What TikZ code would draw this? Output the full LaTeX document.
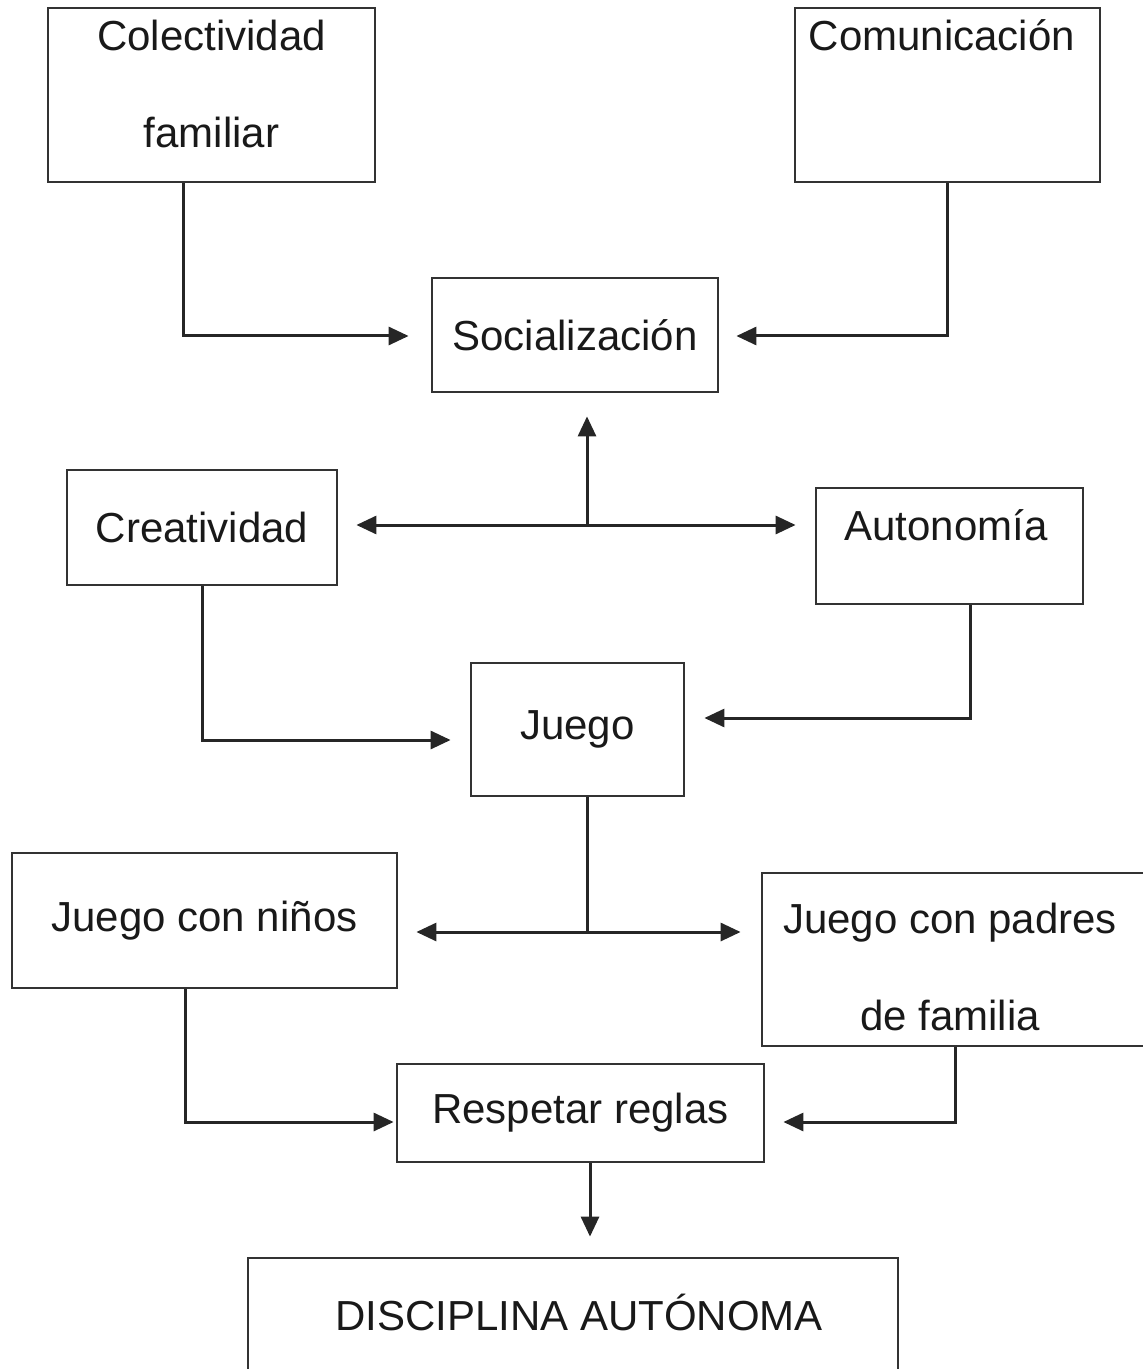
\documentclass[tikz,border=0pt]{standalone}
\usepackage{fontspec}
\setmainfont{Liberation Sans}
\usetikzlibrary{arrows.meta,calc,positioning}
\tikzset{
  box/.style={draw=black!80,line width=1.4pt,rectangle,inner sep=0pt,align=center,
    font=\fontsize{21}{48.5}\selectfont,text=black!90},
  txt/.style={inner sep=0pt,align=center,font=\fontsize{21}{48.5}\selectfont,text=black!90},
  line/.style={draw=black!85,line width=1.5pt},
  arr/.style={line,-{Triangle[length=10pt,width=9pt]}},
  arrs/.style={line,{Triangle[length=10pt,width=9pt]}-{Triangle[length=10pt,width=9pt]}}
}
\begin{document}
\begin{tikzpicture}[x=0.5pt,y=-0.5pt]
	\useasboundingbox (0,0) rectangle (1143,1369);
	% boxes
	\node [box,minimum width=163.5pt,minimum height=87pt] (col) at (211.5,95) {};
	\node [txt] (col-t) at (211.5,83.5) {Colectividad\\familiar};
	\node [box,minimum width=152.5pt,minimum height=87pt] (com) at (947.5,95) {};
	\node [txt] (com-t) at (942,35) {Comunicación};
	\node [box,minimum width=143pt,minimum height=57pt] (soc) at (575,335) {Socialización};
	\node [box,minimum width=135pt,minimum height=57.5pt] (cre) at (202,527.5) {Creatividad};
	\node [box,minimum width=133.5pt,minimum height=58pt] (aut) at (949.5,546) {};
	\node [txt] (aut-t) at (946,525) {Autonomía};
	\node [box,minimum width=106.5pt,minimum height=66.5pt] (jue) at (577.5,729.5) {Juego};
	\node [box,minimum width=192.5pt,minimum height=67.5pt] (jn) at (204.5,920.5) {Juego con niños};
	\node [box,minimum width=193pt,minimum height=86.5pt] (jp) at (955,959.5) {};
	\node [txt] (jp-t) at (950,967) {Juego con padres\\de familia};
	\node [box,minimum width=183.5pt,minimum height=49pt] (res) at (580.5,1113) {Respetar reglas};
	\node [box,minimum width=325pt,minimum height=62pt] (dis) at (573,1320) {};
	\node [txt] (dis-t) at (579,1312) {DISCIPLINA AUTÓNOMA};
	% connectors
	\coordinate (j1) at (587,525);
	\coordinate (j2) at (587,932);
	\draw [arr,shorten >=11pt] (col.south -| 183,0) |- (soc.west |- 0,336);
	\draw [arr,shorten >=8.5pt] (com.south) |- (soc.east |- 0,336);
	\draw [arrs,shorten <=9pt,shorten >=9.5pt] (cre.east |- j1) -- (aut.west |- j1);
	\draw [arr,shorten >=11.5pt] (j1) -- (soc.south -| j1);
	\draw [arr,shorten >=9.5pt] (cre.south) |- (jue.west |- 0,740);
	\draw [arr,shorten >=9.5pt] (aut.south -| 970,0) |- (jue.east |- 0,718);
	\draw [line] (jue.south -| j2) -- (j2);
	\draw [arrs,shorten <=9pt,shorten >=10pt] (jn.east |- j2) -- (jp.west |- j2);
	\draw [arr,shorten >=1pt] (jn.south -| 185,0) |- (res.west |- 0,1122);
	\draw [arr,shorten >=9pt] (jp.south) |- (res.east |- 0,1122);
	\draw [arr,shorten >=10pt] (res.south -| 590,0) -- (dis.north -| 590,0);
\end{tikzpicture}
\end{document}
